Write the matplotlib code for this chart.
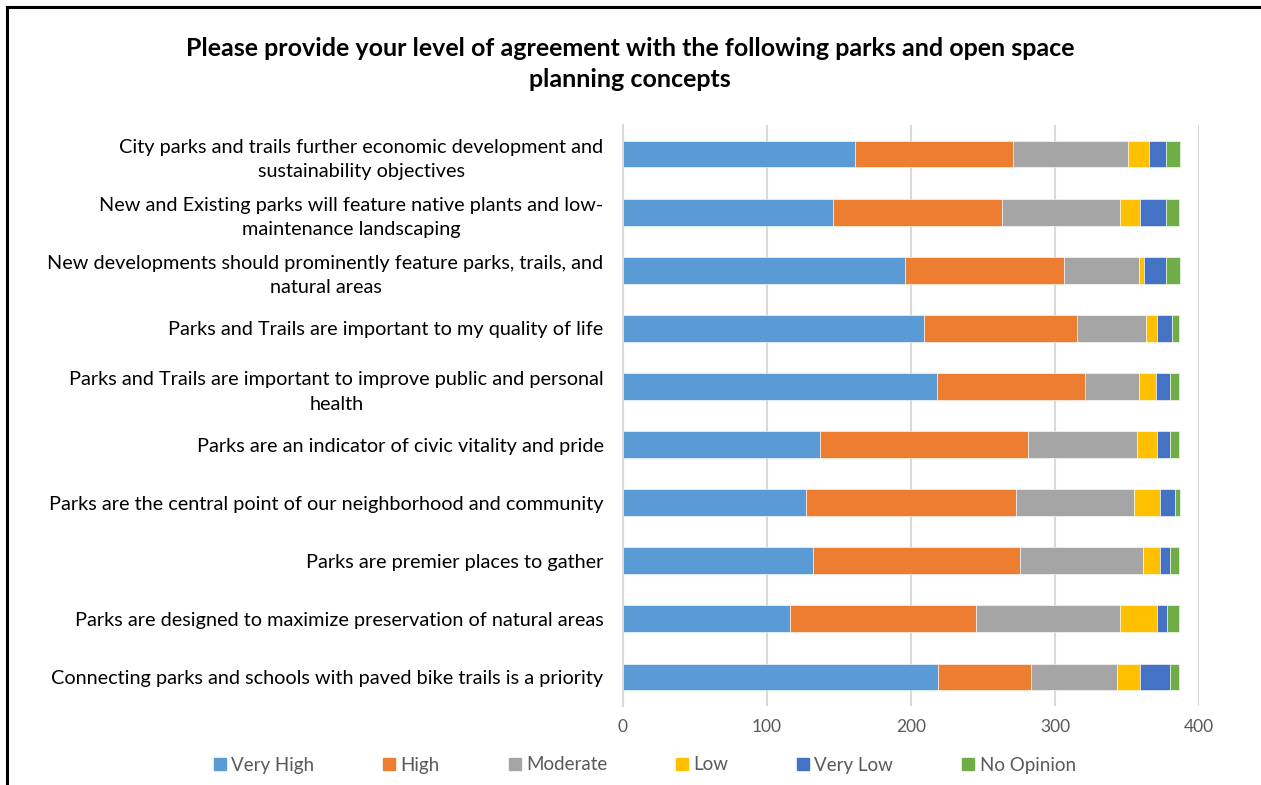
import numpy as np
from matplotlib import pyplot as plt
from matplotlib.lines import Line2D

# categories, top to bottom as shown
concepts = [
    "City parks and trails further economic development and\nsustainability objectives",
    "New and Existing parks will feature native plants and low-\nmaintenance landscaping",
    "New developments should prominently feature parks, trails, and\nnatural areas",
    "Parks and Trails are important to my quality of life",
    "Parks and Trails are important to improve public and personal\nhealth",
    "Parks are an indicator of civic vitality and pride",
    "Parks are the central point of our neighborhood and community",
    "Parks are premier places to gather",
    "Parks are designed to maximize preservation of natural areas",
    "Connecting parks and schools with paved bike trails is a priority",
]

levels = ["Very High", "High", "Moderate", "Low", "Very Low", "No Opinion"]

very_high  = [161, 146, 196, 209, 218, 137, 127, 132, 116, 219]
high       = [110, 117, 110, 106, 103, 144, 146, 144, 129, 64]
moderate   = [80, 82, 52, 48, 37, 76, 82, 85, 100, 60]
low        = [14, 14, 4, 8, 12, 14, 18, 12, 26, 16]
very_low   = [12, 18, 15, 10, 10, 9, 10, 7, 7, 21]
no_opinion = [10, 9, 10, 5, 6, 6, 4, 6, 8, 6]

colors = ["#5B9BD5", "#ED7D31", "#A5A5A5", "#FFC000", "#4472C4", "#70AD47"]

plt.rcParams['font.family'] = ['Lato', 'DejaVu Sans']

W, H = 1261, 785
fig = plt.figure(figsize=(W / 100, H / 100), dpi=100)
ax = fig.add_axes([623 / W, (H - 706) / H, (1199 - 623) / W, (706 - 125) / H])

series = [very_high, high, moderate, low, very_low, no_opinion]
y = np.arange(len(concepts))
left = np.zeros(len(concepts))
for name, vals, c in zip(levels, series, colors):
    ax.barh(y, vals, left=left, height=0.46, color=c, label=name,
            edgecolor='white', linewidth=0.4, zorder=3)
    left += np.array(vals)

ax.set_xlim(0, 400)
ax.set_ylim(len(concepts) - 0.5, -0.5)
ax.set_xticks([0, 100, 200, 300, 400])
ax.set_yticks(y)
ax.set_yticklabels(concepts, fontsize=14.3, color='black')
for t in ax.get_yticklabels():
    t.set_multialignment('center')
    t.set_linespacing(1.55)
ax.tick_params(axis='y', length=0, pad=14)
ax.tick_params(axis='x', length=0, pad=9, labelsize=12.5, labelcolor='#595959')
ax.grid(axis='x', color='#D9D9D9', linewidth=1.5, zorder=0)
for s in ['top', 'right', 'bottom']:
    ax.spines[s].set_visible(False)
ax.spines['left'].set_color('#D9D9D9')
ax.spines['left'].set_linewidth(1.5)

fig.text(630 / W, 1 - 64 / H,
         "Please provide your level of agreement with the following parks and open space\nplanning concepts",
         ha='center', va='center', fontsize=18, fontweight='bold', linespacing=1.45)

handles = [Line2D([], [], marker='s', linestyle='none', markersize=9,
                  markerfacecolor=c, markeredgecolor=c) for c in colors]
fig.legend(handles, levels, loc='center', bbox_to_anchor=(643 / W, 1 - 765 / H),
           ncol=6, frameon=False, fontsize=13.5, labelcolor='#595959',
           handletextpad=0.1, columnspacing=3.5, handlelength=1.0)

# outer border (top and left edges visible)
fig.add_artist(Line2D([7 / W, 1], [1 - 7 / H, 1 - 7 / H], color='black', linewidth=2.2))
fig.add_artist(Line2D([7 / W, 7 / W], [0, 1 - 7 / H], color='black', linewidth=2.2))

fig.savefig("out.png", dpi=100)
